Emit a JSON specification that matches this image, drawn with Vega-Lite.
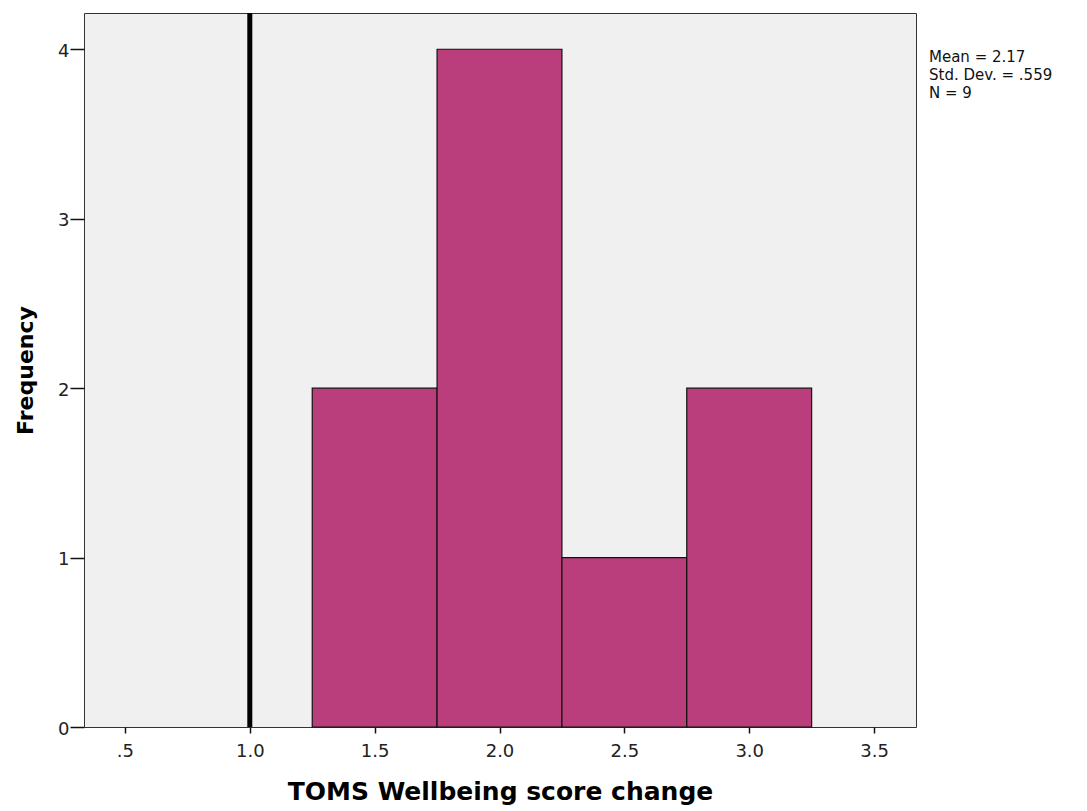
{
  "$schema": "https://vega.github.io/schema/vega-lite/v6.json",
  "width": 832,
  "height": 714,
  "autosize": {"type": "none"},
  "padding": {"left": 84, "top": 13, "right": 171, "bottom": 84},
  "background": "white",
  "config": {
    "view": {"fill": "#F0F0F0", "stroke": "#333333", "strokeWidth": 1},
    "font": "DejaVu Sans",
    "axis": {
      "domain": false,
      "grid": false,
      "tickColor": "#111111",
      "tickWidth": 1.5,
      "labelFont": "DejaVu Sans",
      "labelFontSize": 18,
      "labelColor": "#222222",
      "titleFont": "DejaVu Sans",
      "titleFontWeight": "bold",
      "titleColor": "#000000"
    }
  },
  "datasets": {
    "bins": [
      {"bin_start": 1.25, "bin_end": 1.75, "count": 2},
      {"bin_start": 1.75, "bin_end": 2.25, "count": 4},
      {"bin_start": 2.25, "bin_end": 2.75, "count": 1},
      {"bin_start": 2.75, "bin_end": 3.25, "count": 2}
    ],
    "reference": [{"ref": 1.0}],
    "stats": [{"label": "Mean = 2.17\nStd. Dev. = .559\nN = 9", "xpos": 3.668, "ypos": 4}]
  },
  "layer": [
    {
      "data": {"name": "bins"},
      "mark": {"type": "rect", "fill": "#BA3E7C", "stroke": "#111111", "strokeWidth": 1.2},
      "encoding": {
        "x": {
          "field": "bin_start",
          "type": "quantitative",
          "scale": {"domain": [0.336, 3.668], "nice": false, "zero": false},
          "axis": {
            "values": [0.5, 1.0, 1.5, 2.0, 2.5, 3.0, 3.5],
            "labelExpr": "replace(format(datum.value, '.1f'), '0.', '.')",
            "tickSize": 6,
            "labelPadding": 9,
            "title": "TOMS Wellbeing score change",
            "titleFontSize": 25,
            "titleBaseline": "alphabetic",
            "titleY": 72
          }
        },
        "x2": {"field": "bin_end"},
        "y": {
          "field": "count",
          "type": "quantitative",
          "scale": {"domain": [0, 4.214], "nice": false},
          "axis": {
            "values": [0, 1, 2, 3, 4],
            "format": "d",
            "tickSize": 14,
            "labelPadding": 1,
            "labelOffset": 2,
            "title": "Frequency",
            "titleFontSize": 22,
            "titleBaseline": "alphabetic",
            "titleX": -52
          }
        },
        "y2": {"datum": 0}
      }
    },
    {
      "data": {"name": "reference"},
      "mark": {"type": "rule", "color": "#000000", "strokeWidth": 5},
      "encoding": {
        "x": {"field": "ref", "type": "quantitative"}
      }
    },
    {
      "data": {"name": "stats"},
      "mark": {
        "type": "text",
        "align": "left",
        "baseline": "alphabetic",
        "dx": 13,
        "dy": 13,
        "fontSize": 15,
        "lineHeight": 18,
        "lineBreak": "\n",
        "color": "#111111",
        "clip": false
      },
      "encoding": {
        "x": {"field": "xpos", "type": "quantitative"},
        "y": {"field": "ypos", "type": "quantitative"},
        "text": {"field": "label"}
      }
    }
  ]
}
